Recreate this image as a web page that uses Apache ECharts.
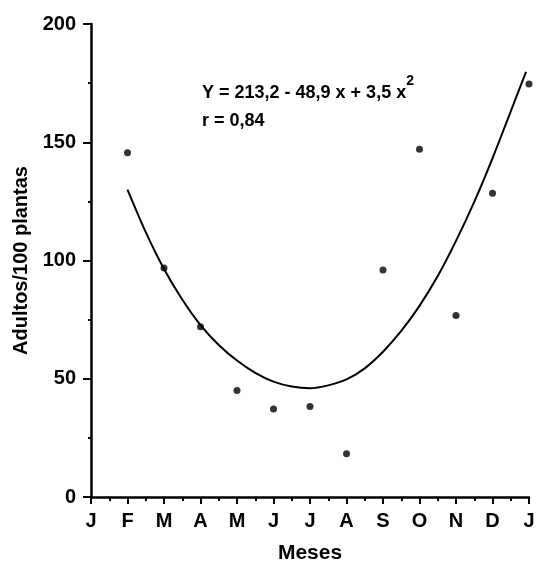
<!DOCTYPE html>
<html>
<head>
<meta charset="utf-8">
<script src="https://cdn.jsdelivr.net/npm/echarts@6/dist/echarts.min.js"></script>
<style>
html,body{margin:0;padding:0;background:#fff;}
#chart{width:536px;height:563px;}
</style>
</head>
<body>
<div id="chart"></div>
<script>
// Month tick labels (position 0..12)
var months = ['J','F','M','A','M','J','J','A','S','O','N','D','J'];
// Observed values (Adultos/100 plantas)
var obsX = [1, 2, 3, 4, 5, 6, 7, 8, 9, 10, 11, 12];
var obsY = [145.6, 96.8, 72, 45, 37.2, 38.3, 18.3, 96, 147, 76.7, 128.4, 174.6];
// Fitted curve
var curveX = [1, 1.5, 2, 2.5, 3, 3.5, 4, 4.5, 5, 5.5, 6, 6.5, 7, 7.5, 8, 8.5, 9, 9.5, 10, 10.5, 11, 11.5, 11.92];
var curveY = [130, 112, 96.4, 83.5, 72.7, 64.3, 57.7, 52.5, 48.8, 46.7, 46, 47.2, 49.7, 54.4, 61.4, 70.2, 80.8, 93.4, 108.3, 124.8, 143.2, 163.1, 179.8];
var yTicks = [0, 50, 100, 150, 200];

var FONT = "'Liberation Sans', Arial, Helvetica, sans-serif";

var chart = echarts.init(document.getElementById('chart'), null, {renderer: 'canvas'});
var obsData = obsX.map(function (x, i) { return [x, obsY[i]]; });
var curveData = curveX.map(function (x, i) { return [x, curveY[i]]; });

chart.setOption({
  animation: false,
  backgroundColor: '#fff',
  grid: {left: 91, right: 7, top: 24, bottom: 66, containLabel: false, outerBoundsMode: 'none'},
  xAxis: {
    type: 'value', min: 0, max: 12, interval: 1,
    name: 'Meses', nameLocation: 'middle', nameGap: 46,
    nameTextStyle: {fontFamily: FONT, fontSize: 21, fontWeight: 'bold', color: '#000'},
    axisLine: {show: true, onZero: false, lineStyle: {color: '#000', width: 2.5}},
    axisTick: {show: true, length: 7, lineStyle: {color: '#000', width: 2}},
    minorTick: {show: true, splitNumber: 2, length: 4, lineStyle: {color: '#000', width: 2}},
    splitLine: {show: false},
    axisLabel: {
      margin: 14, fontFamily: FONT, fontSize: 20, fontWeight: 'bold', color: '#000',
      formatter: function (v) { return months[Math.round(v)]; }
    }
  },
  yAxis: {
    type: 'value', min: 0, max: 200, interval: 50,
    name: 'Adultos/100 plantas', nameLocation: 'middle', nameGap: 60,
    nameTextStyle: {fontFamily: FONT, fontSize: 20, fontWeight: 'bold', color: '#000'},
    axisLine: {show: true, onZero: false, lineStyle: {color: '#000', width: 2.5}},
    axisTick: {show: true, length: 8, lineStyle: {color: '#000', width: 2}},
    minorTick: {show: true, splitNumber: 2, length: 3, lineStyle: {color: '#000', width: 2}},
    splitLine: {show: false},
    axisLabel: {
      margin: 15, fontFamily: FONT, fontSize: 20, fontWeight: 'bold', color: '#000',
      formatter: function (v) { return yTicks.indexOf(v) >= 0 ? String(v) : ''; }
    }
  },
  graphic: [{
    type: 'text', left: 202, top: 74,
    style: {
      text: '{a|Y = 213,2 - 48,9 x + 3,5 x}{s|2}\n{a|r = 0,84}',
      rich: {
        a: {fontFamily: FONT, fontSize: 18, fontWeight: 'bold', color: '#000', lineHeight: 28, verticalAlign: 'bottom'},
        s: {fontFamily: FONT, fontSize: 14, fontWeight: 'bold', color: '#000', lineHeight: 28, verticalAlign: 'top'}
      }
    }
  }],
  series: [{
    type: 'line', data: curveData, smooth: 0.3, showSymbol: false, clip: false,
    lineStyle: {color: '#000', width: 2}, silent: true
  }, {
    type: 'scatter', data: obsData, symbol: 'circle', symbolSize: 7, clip: false,
    itemStyle: {color: '#000'}
  }]
});
</script>
</body>
</html>
